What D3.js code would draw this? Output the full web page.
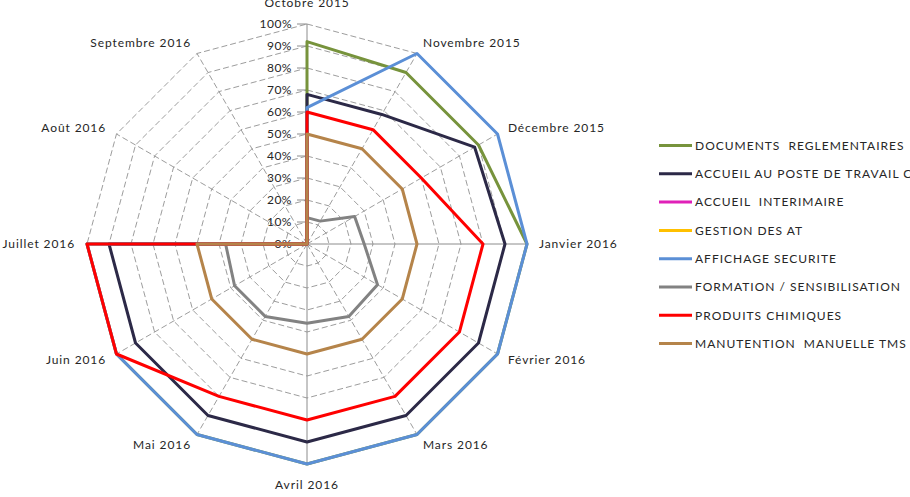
<!DOCTYPE html>
<html>
<head>
<meta charset="utf-8">
<script src="https://cdn.jsdelivr.net/npm/d3@7"></script>
<style>
  html, body { margin: 0; padding: 0; background: #fff; }
  svg { display: block; font-family: Lato, "Open Sans", sans-serif; }
</style>
</head>
<body>
<div id="chart"></div>
<script>
// months round the radar, clockwise from the top
const categories = ["Octobre 2015", "Novembre 2015", "Décembre 2015", "Janvier 2016",
  "Février 2016", "Mars 2016", "Avril 2016", "Mai 2016", "Juin 2016",
  "Juillet 2016", "Août 2016", "Septembre 2016"]

const tickValues = [0, 10, 20, 30, 40, 50, 60, 70, 80, 90, 100]
const tickLabels = ["0%", "10%", "20%", "30%", "40%", "50%", "60%", "70%", "80%", "90%", "100%"]

const seriesNames = ["DOCUMENTS  REGLEMENTAIRES", "ACCUEIL AU POSTE DE TRAVAIL CDD", "ACCUEIL  INTERIMAIRE",
  "GESTION DES AT", "AFFICHAGE SECURITE", "FORMATION / SENSIBILISATION",
  "PRODUITS CHIMIQUES", "MANUTENTION  MANUELLE TMS"]

// values in %, one per month (null = no value)
const documents = [92, 90, 90, 100, 100, 100, 100, 100, 100, 100, 0, 0]
const accueilPoste = [68, 68, 88, 90, 90, 90, 90, 90, 90, 90, 0, 0]
const accueilInterim = [null, null, null, null, null, null, null, null, null, null, null, null]
const gestionAT = [null, null, null, null, null, null, null, null, null, null, null, null]
const affichage = [62, 100, 100, 100, 100, 100, 100, 100, 100, 100, 0, 0]
const formation = [12, 12, 25, 26, 37, 38, 36, 38, 38, 37, 0, 0]
const produits = [60, 60, 60, 80, 80, 80, 80, 80, 100, 100, 0, 0]
const manutention = [50, 50, 50, 50, 50, 50, 50, 50, 50, 50, 0, 0]

const seriesValues = [documents, accueilPoste, accueilInterim, gestionAT, affichage, formation, produits, manutention]
const seriesColors = ["#77933c", "#2c2947", "#e020b8", "#ffc000", "#5b8fd6", "#828282", "#ff0000", "#b5844a"]

const width = 910
const height = 497
const cx = 307        // centre of the radar
const cy = 244
const radius = 220

const svg = d3.select("#chart").append("svg")
    .attr("width", width)
    .attr("height", height)
    .attr("viewBox", [0, 0, width, height])

const r = d3.scaleLinear([0, 100], [0, radius])
const angle = d3.scaleLinear([0, categories.length], [0, 2 * Math.PI])
const color = d3.scaleOrdinal(seriesNames, seriesColors)

const g = svg.append("g").attr("transform", `translate(${cx},${cy})`)

// rings
const ring = d3.lineRadial()
    .angle((d, i) => angle(i))
    .radius(d => r(d))
    .curve(d3.curveLinearClosed)

g.append("g")
    .selectAll("path")
    .data(tickValues.slice(1))
    .join("path")
    .attr("d", t => ring(categories.map(() => t)))
    .attr("fill", "none")
    .attr("stroke", "#9d9d9d")
    .attr("stroke-width", 1)
    .attr("stroke-dasharray", "6,3")

// spokes, the ones on the main axes are solid
g.append("g")
    .selectAll("line")
    .data(categories)
    .join("line")
    .attr("x1", 0)
    .attr("y1", 0)
    .attr("x2", (d, i) => r(100) * Math.sin(angle(i)))
    .attr("y2", (d, i) => -r(100) * Math.cos(angle(i)))
    .attr("stroke", (d, i) => i % 3 === 0 ? "#8c8c8c" : "#9d9d9d")
    .attr("stroke-width", 1)
    .attr("stroke-dasharray", (d, i) => i % 3 === 0 ? null : "6,3")

// value axis labels and ticks
const yAxis = g.append("g")
yAxis.selectAll("line")
    .data(tickValues)
    .join("line")
    .attr("x1", -10)
    .attr("x2", 0)
    .attr("y1", d => -r(d))
    .attr("y2", d => -r(d))
    .attr("stroke", "#8c8c8c")
yAxis.selectAll("text")
    .data(tickValues)
    .join("text")
    .attr("x", -15)
    .attr("y", d => -r(d))
    .attr("dy", "0.35em")
    .attr("text-anchor", "end")
    .attr("font-size", 12)
    .attr("letter-spacing", 0.5)
    .attr("fill", "#262626")
    .text((d, i) => tickLabels[i])

// month labels
g.append("g")
    .selectAll("text")
    .data(categories)
    .join("text")
    .each(function (d, i) {
        const a = angle(i)
        const s = Math.sin(a), c = Math.cos(a)
        const extra = Math.abs(s) < 0.1 ? 9 : 0
        const rr = radius + 12 + extra
        d3.select(this)
            .attr("x", rr * s)
            .attr("y", -rr * c)
            .attr("text-anchor", Math.abs(s) < 0.1 ? "middle" : (s > 0 ? "start" : "end"))
    })
    .attr("dy", "0.35em")
    .attr("font-size", 12)
    .attr("letter-spacing", 0.9)
    .attr("fill", "#262626")
    .text(d => d)

// series
const line = d3.lineRadial()
    .defined(d => d != null)
    .angle((d, i) => angle(i))
    .radius(d => r(d))
    .curve(d3.curveLinearClosed)

g.append("g")
    .selectAll("path")
    .data(seriesNames.filter((n, k) => seriesValues[k].some(v => v != null)))
    .join("path")
    .attr("d", n => line(seriesValues[seriesNames.indexOf(n)]))
    .attr("fill", "none")
    .attr("stroke", n => color(n))
    .attr("stroke-width", 3)
    .attr("stroke-linejoin", "round")

// legend
const legend = svg.append("g")
    .attr("transform", "translate(659,145.5)")
    .selectAll("g")
    .data(seriesNames)
    .join("g")
    .attr("transform", (d, i) => `translate(0,${i * 28.3})`)

legend.append("line")
    .attr("x1", 0)
    .attr("x2", 33)
    .attr("stroke", d => color(d))
    .attr("stroke-width", 3)

legend.append("text")
    .attr("x", 36)
    .attr("dy", "0.35em")
    .attr("font-size", 12)
    .attr("letter-spacing", 1)
    .attr("fill", "#262626")
    .attr("xml:space", "preserve")
    .text(d => d)
</script>
</body>
</html>
